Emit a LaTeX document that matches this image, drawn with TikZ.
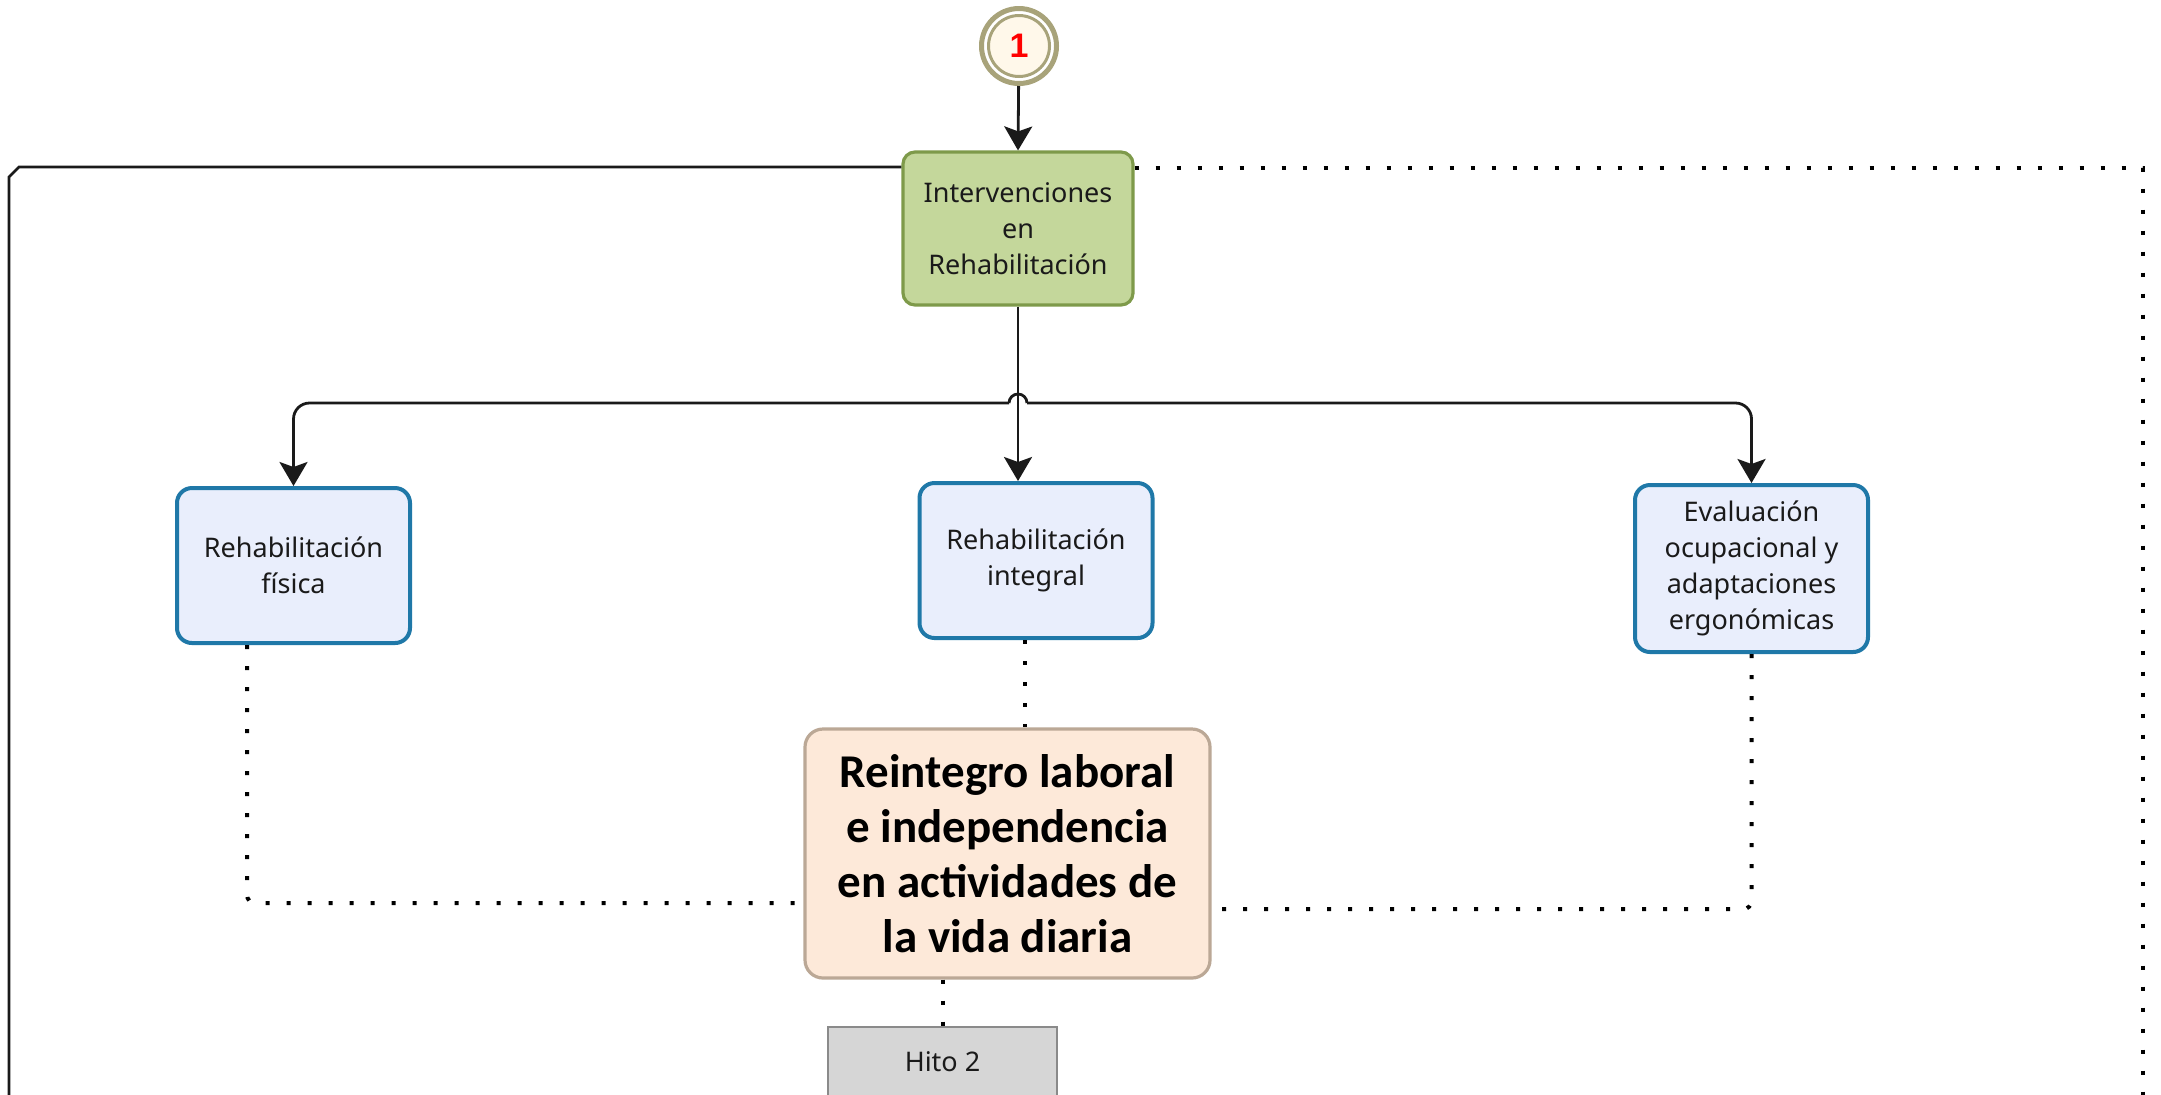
\documentclass[tikz,border=0pt]{standalone}
\usepackage{fontspec}
\setmainfont{Noto Sans}
\newfontfamily\boldfont{Carlito}
\newfontfamily\numfont{Liberation Sans}
\usetikzlibrary{arrows.meta}
\definecolor{olivefill}{HTML}{C4D79B}
\definecolor{olivedraw}{HTML}{7E9A4A}
\definecolor{bluefill}{HTML}{E9EEFC}
\definecolor{bluedraw}{HTML}{1F78A8}
\definecolor{peachfill}{HTML}{FDE9D9}
\definecolor{peachdraw}{HTML}{BBA896}
\definecolor{greyfill}{HTML}{D6D6D6}
\definecolor{greydraw}{HTML}{8A8A8A}
\definecolor{ringcol}{HTML}{A8A37A}
\definecolor{creamfill}{HTML}{FFF8EA}
\definecolor{linecol}{HTML}{1A1A1A}
\definecolor{textcol}{HTML}{1A1A1A}
\tikzset{
  smalltext/.style={font=\fontsize{13.5pt}{18pt}\selectfont, text=textcol, align=center},
  greenbox/.style={smalltext, draw=olivedraw, fill=olivefill, line width=1.6pt,
    rounded corners=6pt, minimum width=115pt, minimum height=76.5pt, inner sep=0pt},
  bluebox/.style={smalltext, draw=bluedraw, fill=bluefill, line width=2pt,
    rounded corners=7.5pt, minimum width=116.5pt, minimum height=77.5pt, inner sep=0pt},
  goalbox/.style={font=\boldfont\bfseries\fontsize{23.5pt}{27.5pt}\selectfont, align=center,
    draw=peachdraw, fill=peachfill, line width=1.6pt, rounded corners=9pt,
    minimum width=202.5pt, minimum height=124.5pt, inner sep=0pt},
  milestone/.style={smalltext, draw=greydraw, fill=greyfill, line width=1pt,
    minimum width=114.5pt, minimum height=35pt, inner sep=0pt},
  flow/.style={draw=linecol, line width=1.4pt, -{Stealth[length=12pt,width=14pt,inset=2.5pt]}},
  plainline/.style={draw=linecol, line width=1.4pt},
  dotline/.style={draw=black, line width=2pt, dash pattern=on 2pt off 8.5pt},
}
\begin{document}
\begin{tikzpicture}[x=0.5pt, y=-0.5pt]
\useasboundingbox (0,0) rectangle (2161,1094);
\clip (0,0) rectangle (2161,1094);
\fill[white] (0,0) rectangle (2161,1094);

% start event
\node[circle, draw=ringcol, fill=white, line width=2.5pt, minimum size=37.5pt, inner sep=0pt] (start) at (1019,46) {};
\node[circle, draw=ringcol, fill=creamfill, line width=1.5pt, minimum size=30.5pt, inner sep=0pt] (startin) at (1019,46)
  {\numfont\bfseries\fontsize{17pt}{17pt}\selectfont\textcolor{red}{1}};

% activities
\node[greenbox] (interv) at (1018,228.5) {Intervenciones\\en\\Rehabilitación};
\node[bluebox] (fis) at (293.5,565.5) {Rehabilitación\\física};
\node[bluebox] (integ) at (1036,560.5) {Rehabilitación\\integral};
\node[bluebox, minimum height=83.5pt] (eval) at (1751.5,568.5) {Evaluación\\ocupacional y\\adaptaciones\\ergonómicas};
\node[goalbox] (reint) at (1007.5,853.5) {Reintegro laboral\\e independencia\\en actividades de\\la vida diaria};
\node[milestone] (hito) at (942.5,1062) {Hito 2};

% sequence flow
\draw[flow] (start) -- (interv.north);
\coordinate (hub) at (interv.south |- 0,403);
\draw[flow] (interv.south) -- (interv.south |- integ.north);
\draw[flow, rounded corners=8pt] ([xshift=-4.5pt]hub) -| (fis.north);
\draw[flow, rounded corners=8pt] ([xshift=4.5pt]hub) -| (eval.north);
\draw[plainline] ([xshift=-4.5pt]hub) arc (180:0:4.5pt);

% outer frame lines
\draw[plainline] (interv.west |- 0,167) -- (19,167) -- (9,177) -- (9,1110);
\draw[dotline] (interv.east |- 0,168) -- (2143,168) -- (2143,1110);

% associations
\draw[dotline, rounded corners=4pt] ([xshift=-23.25pt]fis.south) |- (reint.west |- 0,903);
\draw[dotline] ([xshift=-5.5pt]integ.south) -- ([xshift=-5.5pt]integ.south |- reint.north);
\draw[dotline, rounded corners=4pt] (eval.south) |- (reint.east |- 0,909);
\draw[dotline] (hito.north |- reint.south) -- (hito.north);
\end{tikzpicture}
\end{document}
